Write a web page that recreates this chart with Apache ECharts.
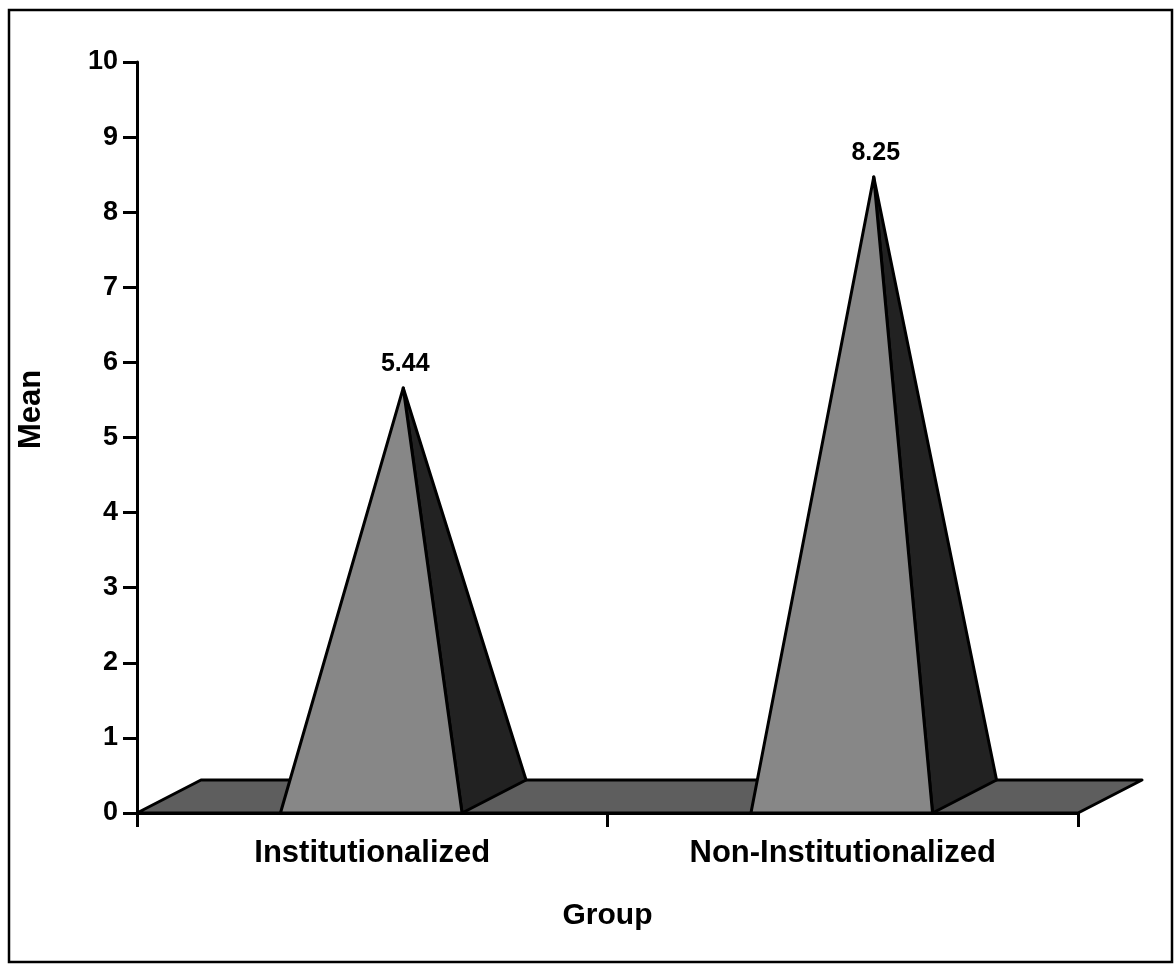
<!DOCTYPE html>
<html><head><meta charset="utf-8">
<script src="https://cdn.jsdelivr.net/npm/echarts@6/dist/echarts.min.js"></script>
<style>html,body{margin:0;padding:0;background:#fff}#c{width:1176px;height:964px}</style>
</head><body><div id="c"></div>
<script>
const categories = ['Institutionalized', 'Non-Institutionalized'];
const means = [5.44, 8.25];
const yMin = 0, yMax = 10, yStep = 1;
const xTitle = 'Group';
const yTitle = 'Mean';

const FONT = '"Liberation Sans", Arial, sans-serif';
const DEPTH = [64, -33];
const FRONT = '#878787', SIDE = '#222222', FLOOR = '#5e5e5e';

const chart = echarts.init(document.getElementById('c'), null, {renderer: 'canvas'});

function renderFloor(params, api) {
  const cs = params.coordSys;
  const y0 = cs.y + cs.height;
  const fl = [cs.x, y0], fr = [cs.x + cs.width, y0];
  const br = [fr[0] + DEPTH[0], y0 + DEPTH[1]], bl = [fl[0] + DEPTH[0], y0 + DEPTH[1]];
  return {type: 'polygon', shape: {points: [fl, fr, br, bl]},
    style: {fill: FLOOR, stroke: '#000', lineWidth: 3, lineJoin: 'round'}};
}

function renderPyramid(params, api) {
  const i = api.value(0), v = api.value(1);
  const base = api.coord([i, 0]);
  const top = api.coord([i, v]);
  const band = api.size([1, 0])[0];
  const hb = band * 0.193;
  const cx = base[0] - 1;
  const y0 = base[1];
  const apex = [cx + DEPTH[0] / 2, top[1] + DEPTH[1] / 2];
  const fl = [cx - hb, y0], fr = [cx + hb, y0], br = [cx + hb + DEPTH[0], y0 + DEPTH[1]];
  return {type: 'group', children: [
    {type: 'polygon', shape: {points: [fr, br, apex]},
      style: {fill: SIDE, stroke: '#000', lineWidth: 3, lineJoin: 'round'}},
    {type: 'polygon', shape: {points: [fl, fr, apex]},
      style: {fill: FRONT, stroke: '#000', lineWidth: 3, lineJoin: 'round'}},
    {type: 'text', style: {text: v.toFixed(2), x: apex[0] + 2, y: apex[1] - 11,
      align: 'center', verticalAlign: 'bottom', font: 'bold 25px ' + FONT, fill: '#000'}}
  ]};
}

const option = {
  animation: false,
  backgroundColor: '#fff',
  graphic: [{type: 'rect', shape: {x: 9, y: 10, width: 1163, height: 952},
    style: {fill: 'none', stroke: '#000', lineWidth: 2.5}, z: 100}],
  grid: {left: 137, right: 98, top: 62, bottom: 151},
  xAxis: {
    type: 'category', data: categories, boundaryGap: true,
    name: xTitle, nameLocation: 'middle', nameGap: 88,
    nameTextStyle: {fontFamily: FONT, fontWeight: 'bold', fontSize: 30, color: '#000'},
    axisLine: {lineStyle: {color: '#000', width: 3}},
    axisTick: {show: true, length: 14, lineStyle: {color: '#000', width: 3}},
    axisLabel: {margin: 25, fontFamily: FONT, fontWeight: 'bold', fontSize: 31, color: '#000'},
    splitLine: {show: false}
  },
  yAxis: {
    type: 'value', min: yMin, max: yMax, interval: yStep,
    name: yTitle, nameLocation: 'middle', nameGap: 90, nameRotate: 90,
    nameTextStyle: {fontFamily: FONT, fontWeight: 'bold', fontSize: 31, color: '#000',
      padding: [0, 0, 0, 56]},
    axisLine: {show: true, lineStyle: {color: '#000', width: 3}},
    axisTick: {show: true, length: 14, lineStyle: {color: '#000', width: 3}},
    axisLabel: {margin: 19, fontFamily: FONT, fontWeight: 'bold', fontSize: 27, color: '#000'},
    splitLine: {show: false}
  },
  series: [
    {type: 'custom', name: 'floor', renderItem: renderFloor, data: [[0, 0]], z: 2, silent: true},
    {type: 'custom', name: 'Mean', renderItem: renderPyramid,
      data: means.map((m, i) => [i, m]), z: 3,
      encode: {x: 0, y: 1}}
  ]
};
chart.setOption(option);
</script>
</body></html>
